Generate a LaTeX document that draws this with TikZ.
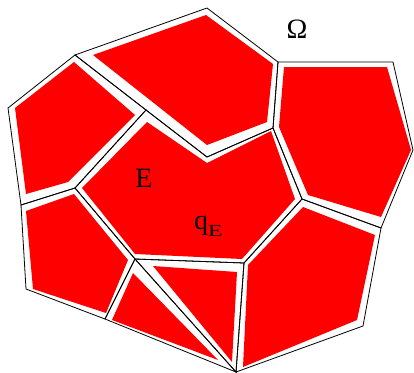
\documentclass[tikz,border=0pt]{standalone}
\usepackage{fontspec}
\setmainfont{Liberation Serif}
\usepackage{tikz}
\usetikzlibrary{calc}
\definecolor{MeshInk}{gray}{0.0}
\definecolor{MeshFill}{rgb}{1,0,0}
\tikzset{
    mesh/diagram/.style={
        draw=MeshInk,
        text=MeshInk,
        line width=0.8pt,
        line cap=round,
        line join=miter,
        every node/.style={inner sep=0pt, outer sep=0pt}
    },
    mesh/cell/.style={draw=MeshInk, line width=0.8pt},
    mesh/inner/.style={fill=MeshFill, draw=none},
    mesh/label/.style={font=\fontsize{28}{30}\selectfont, anchor=base}
}

\begin{document}
\begin{tikzpicture}[mesh/diagram, x=1pt, y=-1pt]
    \useasboundingbox (0,0) rectangle (414,372);
    % vertices of the mesh
    \coordinate (a) at (75,55);   \coordinate (b) at (207,8);
    \coordinate (c) at (278,62);  \coordinate (d) at (393,62);
    \coordinate (e) at (413,150); \coordinate (f) at (381,228);
    \coordinate (g) at (363,326); \coordinate (h) at (236,372);
    \coordinate (i) at (105,319); \coordinate (j) at (26,289);
    \coordinate (k) at (21,205);  \coordinate (l) at (8,108);
    \coordinate (m) at (146,110); \coordinate (n) at (207,157);
    \coordinate (p) at (273,128); \coordinate (q) at (75,188);
    \coordinate (r) at (135,259); \coordinate (s) at (244,263);
    \coordinate (t) at (302,199);

    % shrunk cells
    \fill[mesh/inner] (93,55) -- (206,15) -- (273,64) -- (267,122) -- (207,145) -- cycle;
    \fill[mesh/inner] (284,67) -- (387,67) -- (411,150) -- (381,217) -- (308,195) -- (279,127) -- cycle;
    \fill[mesh/inner] (15,108) -- (74,62) -- (135,115) -- (68,182) -- (26,194) -- cycle;
    \fill[mesh/inner] (147,122) -- (207,163) -- (271,131) -- (295,199) -- (242,259)
        -- (135,254) -- (82,188) -- cycle;
    \fill[mesh/inner] (26,211) -- (74,194) -- (128,260) -- (106,313) -- (33,289) -- cycle;
    \fill[mesh/inner] (133,273) -- (112,320) -- (218,360) -- cycle;
    \fill[mesh/inner] (153,266) -- (237,272) -- (232,362) -- cycle;
    \fill[mesh/inner] (248,265) -- (303,207) -- (375,235) -- (357,320) -- (243,367) -- cycle;

    % cell outlines
    \draw[mesh/cell] (a) -- (b) -- (c) -- (p) -- (n) -- (m) -- cycle;
    \draw[mesh/cell] (c) -- (d) -- (e) -- (f) -- (t) -- (p) -- cycle;
    \draw[mesh/cell] (l) -- (a) -- (m) -- (q) -- (k) -- cycle;
    \draw[mesh/cell] (m) -- (n) -- (p) -- (t) -- (s) -- (r) -- (q) -- cycle;
    \draw[mesh/cell] (k) -- (q) -- (r) -- (i) -- (j) -- cycle;
    \draw[mesh/cell] (r) -- (h) -- (i) -- cycle;
    \draw[mesh/cell] (r) -- (s) -- (h) -- cycle;
    \draw[mesh/cell] (s) -- (t) -- (f) -- (g) -- (h) -- cycle;

    % labels
    \node[mesh/label] (omega) at (297,38) {Ω};
    \node[mesh/label] (elem) at (144,187) {E};
    \node[mesh/label, anchor=base west] (quad) at (194,229)
        {q\raisebox{-7.5pt}{\fontsize{17}{18}\selectfont\scalebox{1.4}[1]{E}}};
\end{tikzpicture}
\end{document}
